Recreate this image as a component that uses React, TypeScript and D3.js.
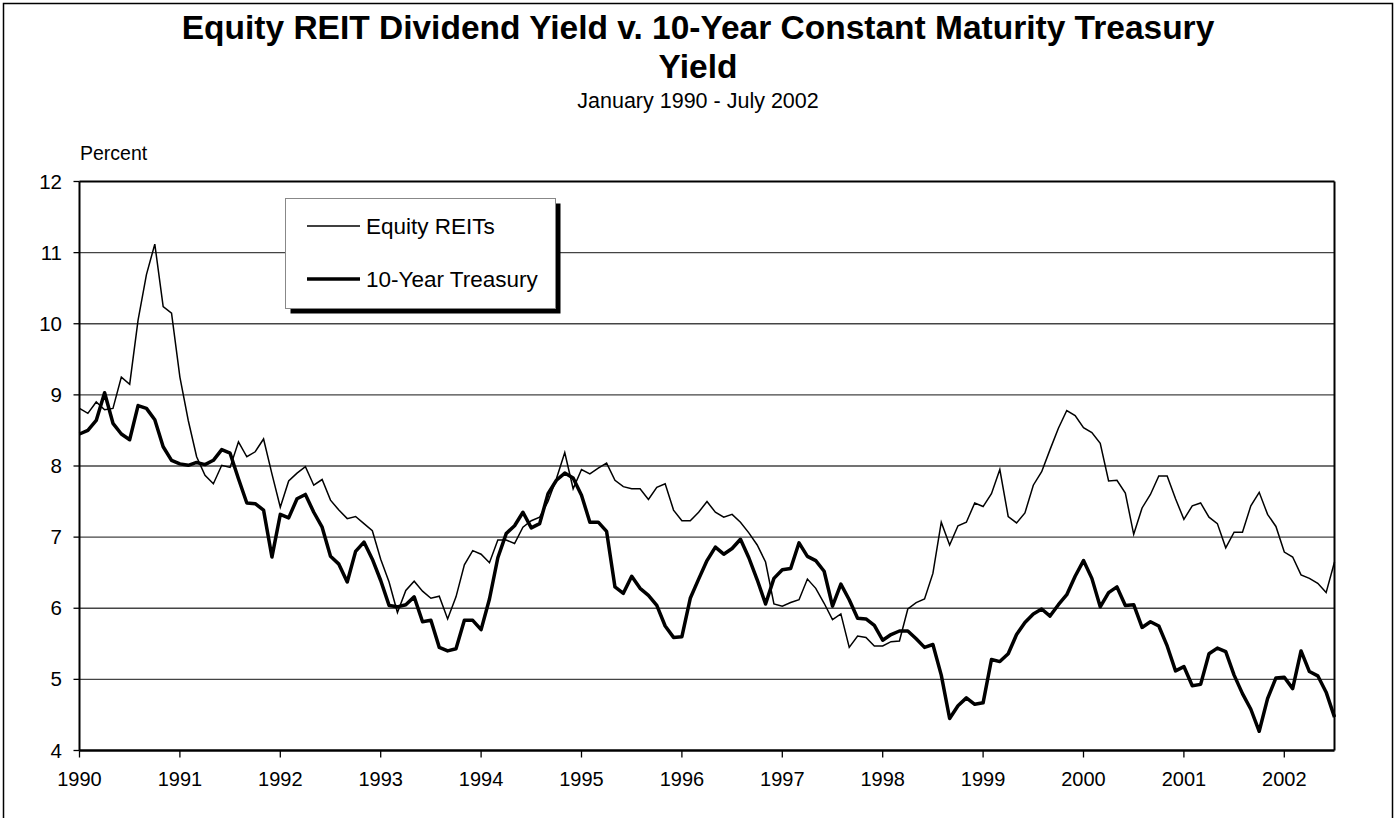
import React from "react";
import * as d3 from "d3";

// Monthly values, January 1990 - July 2002 (151 months)
const reitYield: number[] = [
  8.81, 8.74, 8.9, 8.79, 8.81, 9.25, 9.15, 10.05, 10.69, 11.12, 10.24, 10.15,
  9.25, 8.64, 8.13, 7.87, 7.75, 8.01, 7.98, 8.34, 8.13, 8.2, 8.38, 7.89,
  7.42, 7.79, 7.9, 7.99, 7.73, 7.81, 7.52, 7.38, 7.26, 7.29, 7.19, 7.09,
  6.69, 6.37, 5.94, 6.25, 6.38, 6.24, 6.14, 6.17, 5.85, 6.16, 6.61, 6.81,
  6.76, 6.64, 6.96, 6.96, 6.91, 7.14, 7.23, 7.28, 7.5, 7.82, 8.19, 7.68,
  7.95, 7.89, 7.97, 8.04, 7.8, 7.71, 7.68, 7.68, 7.53, 7.7, 7.75, 7.38,
  7.23, 7.23, 7.35, 7.5, 7.35, 7.28, 7.32, 7.21, 7.06, 6.89, 6.65, 6.06,
  6.03, 6.08, 6.12, 6.41, 6.28, 6.07, 5.84, 5.92, 5.45, 5.61, 5.59, 5.47,
  5.47, 5.53, 5.54, 5.99, 6.08, 6.13, 6.49, 7.21, 6.89, 7.16, 7.21, 7.48,
  7.43, 7.61, 7.95, 7.29, 7.2, 7.34, 7.73, 7.92, 8.23, 8.53, 8.78, 8.71,
  8.54, 8.47, 8.32, 7.79, 7.8, 7.62, 7.04, 7.41, 7.6, 7.86, 7.86, 7.54,
  7.25, 7.44, 7.48, 7.28, 7.19, 6.85, 7.07, 7.07, 7.44, 7.63, 7.32, 7.15,
  6.79, 6.72, 6.47, 6.42, 6.35, 6.22, 6.65,
];

const treasuryYield: number[] = [
  8.45, 8.5, 8.64, 9.03, 8.6, 8.45, 8.37, 8.85, 8.81, 8.65, 8.27, 8.08,
  8.03, 8.01, 8.05, 8.02, 8.08, 8.23, 8.18, 7.82, 7.48, 7.47, 7.38, 6.72,
  7.32, 7.27, 7.54, 7.6, 7.35, 7.14, 6.73, 6.62, 6.37, 6.8, 6.93, 6.69,
  6.39, 6.04, 6.02, 6.05, 6.16, 5.81, 5.83, 5.45, 5.4, 5.43, 5.83, 5.83,
  5.7, 6.13, 6.71, 7.05, 7.16, 7.35, 7.13, 7.19, 7.61, 7.8, 7.9, 7.83,
  7.59, 7.21, 7.21, 7.08, 6.3, 6.21, 6.45, 6.28, 6.18, 6.04, 5.75, 5.59,
  5.6, 6.14, 6.41, 6.67, 6.86, 6.76, 6.84, 6.97, 6.71, 6.4, 6.06, 6.42,
  6.54, 6.56, 6.92, 6.73, 6.67, 6.52, 6.03, 6.34, 6.12, 5.86, 5.85, 5.76,
  5.55, 5.63, 5.68, 5.68, 5.57, 5.45, 5.49, 5.06, 4.45, 4.63, 4.74, 4.65,
  4.67, 5.28, 5.25, 5.36, 5.63, 5.8, 5.92, 5.99, 5.89, 6.05, 6.19, 6.45,
  6.67, 6.42, 6.02, 6.22, 6.3, 6.04, 6.05, 5.73, 5.81, 5.75, 5.47, 5.12,
  5.18, 4.91, 4.93, 5.36, 5.44, 5.39, 5.06, 4.8, 4.58, 4.27, 4.73, 5.02,
  5.03, 4.87, 5.4, 5.11, 5.05, 4.82, 4.47,
];

const yearLabels: string[] = [
  "1990", "1991", "1992", "1993", "1994", "1995", "1996",
  "1997", "1998", "1999", "2000", "2001", "2002",
];
const yTicks: number[] = [4, 5, 6, 7, 8, 9, 10, 11, 12];
const seriesNames: string[] = ["Equity REITs", "10-Year Treasury"];

const W = 1395;
const H = 818;
const FONT = "'Liberation Sans', Arial, Helvetica, sans-serif";

export default function App() {
  const left = 79.5;
  const right = 1334.5;
  const top = 181.5;
  const bottom = 750.5;

  const x = d3.scaleLinear().domain([0, reitYield.length - 1]).range([left, right]);
  const y = d3.scaleLinear().domain([4, 12]).range([bottom, top]);

  const line = d3
    .line<number>()
    .x((_, i) => x(i))
    .y((d) => y(d));

  const legX = 285.5;
  const legY = 198.5;
  const legW = 270;
  const legH = 110;

  return (
    <svg
      width={W}
      height={H}
      style={{ position: "absolute", left: 0, top: 0, background: "#fff" }}
      fontFamily={FONT}
    >
      <rect x={0} y={0} width={W} height={H} fill="#fff" />
      {/* outer frame */}
      <rect x={3.5} y={3.5} width={1389} height={H + 10} fill="none" stroke="#000" strokeWidth={1.5} />

      {/* titles */}
      <text x={698} y={39} textAnchor="middle" fontSize={33.5} fontWeight="bold">
        Equity REIT Dividend Yield v. 10-Year Constant Maturity Treasury
      </text>
      <text x={698} y={77.5} textAnchor="middle" fontSize={33.5} fontWeight="bold">
        Yield
      </text>
      <text x={698} y={108} textAnchor="middle" fontSize={21.5}>
        January 1990 - July 2002
      </text>
      <text x={80} y={160} fontSize={19.5}>
        Percent
      </text>

      {/* gridlines */}
      {yTicks.slice(1, -1).map((t) => (
        <line key={t} x1={left} x2={right} y1={y(t)} y2={y(t)} stroke="#444" strokeWidth={1.4} />
      ))}

      {/* plot border */}
      <line x1={left} x2={right} y1={top} y2={top} stroke="#000" strokeWidth={2} />
      <line x1={right} x2={right} y1={top} y2={bottom} stroke="#000" strokeWidth={2} />
      <line x1={left} x2={left} y1={top} y2={bottom} stroke="#000" strokeWidth={2} />
      <line x1={left} x2={right} y1={bottom} y2={bottom} stroke="#000" strokeWidth={2.5} />

      {/* y ticks */}
      {yTicks.map((t) => (
        <g key={t}>
          <line x1={left - 6} x2={left} y1={y(t)} y2={y(t)} stroke="#000" strokeWidth={1.3} />
          <text x={62} y={y(t) + 7} textAnchor="end" fontSize={20.5}>
            {t}
          </text>
        </g>
      ))}

      {/* x ticks */}
      {yearLabels.map((lab, k) => (
        <g key={lab}>
          <line x1={x(k * 12)} x2={x(k * 12)} y1={bottom} y2={bottom + 7} stroke="#000" strokeWidth={1.3} />
          <text x={x(k * 12)} y={786} textAnchor="middle" fontSize={20}>
            {lab}
          </text>
        </g>
      ))}

      {/* series */}
      <path d={line(reitYield) || ""} fill="none" stroke="#000" strokeWidth={1.5} strokeLinejoin="miter" />
      <path d={line(treasuryYield) || ""} fill="none" stroke="#000" strokeWidth={3.5} strokeLinejoin="round" />

      {/* legend */}
      <rect x={legX + 5} y={legY + 5} width={legW} height={legH} fill="#000" />
      <rect x={legX} y={legY} width={legW} height={legH} fill="#fff" stroke="#888" strokeWidth={1} />
      <line x1={307} x2={360} y1={226} y2={226} stroke="#000" strokeWidth={1.5} />
      <text x={366} y={234} fontSize={22.5}>
        {seriesNames[0]}
      </text>
      <line x1={307} x2={360} y1={279} y2={279} stroke="#000" strokeWidth={3.5} />
      <text x={366} y={287} fontSize={22.5}>
        {seriesNames[1]}
      </text>
    </svg>
  );
}
